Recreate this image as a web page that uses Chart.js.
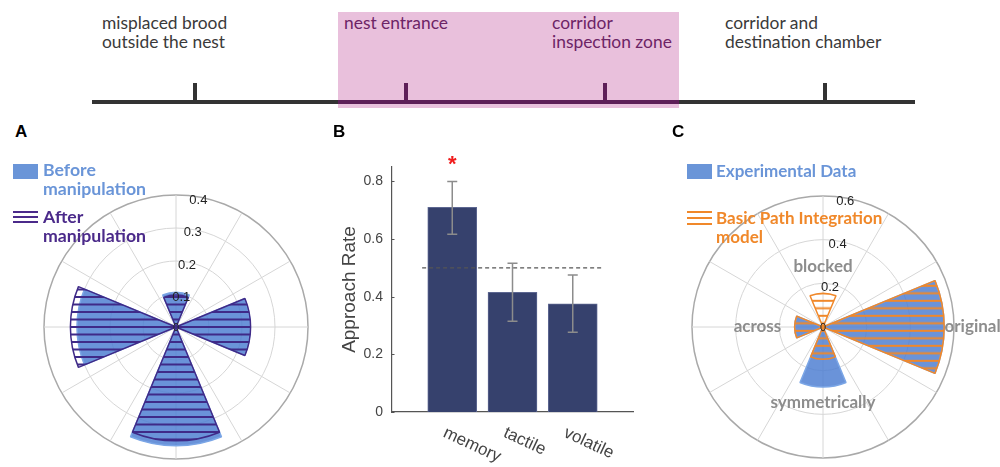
<!DOCTYPE html>
<html>
<head>
<meta charset="utf-8">
<script src="https://cdn.jsdelivr.net/npm/chart.js@4.4.0/dist/chart.umd.min.js"></script>
<style>
  body { margin: 0; background: #fff; }
  #fig { position: relative; width: 1000px; height: 467px; overflow: hidden; font-family: Lato, "Open Sans", sans-serif; }
  .abs { position: absolute; }
  .zone { position: absolute; font-size: 17.4px; line-height: 18.5px; color: #3a3a3a; white-space: nowrap; }
  .inside { color: #6d2466; }
  .letter { position: absolute; font: bold 17px "Liberation Sans", Arial, sans-serif; line-height: 17px; color: #000; }
  .leg { position: absolute; font-weight: bold; font-size: 17.7px; line-height: 18.5px; white-space: nowrap; }
  .legc { font-size: 17px; }
  canvas { position: absolute; }
</style>
</head>
<body>
<div id="fig">
  <!-- schematic of the route -->
  <div class="abs" style="left:338px;top:12px;width:341px;height:96px;background:#e9c0dc"></div>
  <div class="abs" style="left:92px;top:99.5px;width:823px;height:4px;background:#333"></div>
  <div class="abs" style="left:338px;top:99.5px;width:341px;height:4px;background:#5e1f58"></div>
  <div class="abs" style="left:193px;top:83px;width:4px;height:18px;background:#333"></div>
  <div class="abs" style="left:404px;top:83px;width:4px;height:18px;background:#5e1f58"></div>
  <div class="abs" style="left:603px;top:83px;width:4px;height:18px;background:#5e1f58"></div>
  <div class="abs" style="left:823px;top:83px;width:4px;height:18px;background:#333"></div>
  <div class="zone" style="left:102px;top:14px">misplaced brood<br>outside the nest</div>
  <div class="zone inside" style="left:344px;top:14px">nest entrance</div>
  <div class="zone inside" style="left:552px;top:14px">corridor<br>inspection zone</div>
  <div class="zone" style="left:725px;top:14px">corridor and<br>destination chamber</div>

  <canvas id="chartA" width="320" height="317" style="left:0;top:150px"></canvas>
  <canvas id="chartB" width="340" height="327" style="left:320px;top:140px"></canvas>
  <canvas id="chartC" width="340" height="317" style="left:660px;top:150px"></canvas>

  <div class="letter" style="left:15px;top:123px">A</div>
  <div class="letter" style="left:333px;top:123px">B</div>
  <div class="letter" style="left:672px;top:123px">C</div>

  <div class="abs" style="left:13px;top:164px;width:25px;height:15px;background:#6a95d8"></div>
  <div class="leg" style="left:43px;top:161px;color:#6a95d8">Before<br>manipulation</div>
  <div class="abs" style="left:13px;top:211px;width:25px;height:12px;background:repeating-linear-gradient(#4b2a8a 0 2px, transparent 2px 5px)"></div>
  <div class="leg" style="left:43px;top:208px;color:#4b2a8a">After<br>manipulation</div>

  <div class="abs" style="left:687px;top:164px;width:25px;height:15px;background:#6a95d8"></div>
  <div class="leg legc" style="left:716px;top:162px;color:#6a95d8">Experimental Data</div>
  <div class="abs" style="left:687px;top:211px;width:25px;height:14px;background:repeating-linear-gradient(#f0882a 0 2px, transparent 2px 6px)"></div>
  <div class="leg legc" style="left:716px;top:209px;color:#f0882a">Basic Path Integration<br>model</div>
</div>

<script>
// A: rose histogram, 8 bins of 45 deg, clockwise from "up"
const aBins = ["up", "up-right", "right", "down-right", "down", "down-left", "left", "up-left"];
const aBefore = [0.105, 0, 0.225, 0, 0.36, 0, 0.30, 0];
const aAfter = [0.097, 0, 0.226, 0, 0.345, 0, 0.32, 0];
const aTicks = [0.1, 0.2, 0.3, 0.4];

// B: approach rate per cue
const bCategories = ["memory", "tactile", "volatile"];
const bRate = [0.71, 0.415, 0.375];
const bErrLow = [0.617, 0.315, 0.277];
const bErrHigh = [0.80, 0.516, 0.475];
const bSig = ["*", "", ""];
const bChance = 0.5;

// C: direction choice, same bins as A
const cBins = ["blocked", "", "original", "", "symmetrically", "", "across", ""];
const cExperimental = [0, 0, 0.555, 0, 0.275, 0, 0.13, 0];
const cModel = [0.155, 0, 0.555, 0, 0.148, 0, 0.13, 0];
const cTicks = [0.2, 0.4, 0.6];

const blue = "rgba(80,128,210,0.85)";

const hatch = (color, gap, lw) => {
  const c = document.createElement("canvas");
  c.width = 4;
  c.height = gap * 2;
  const g = c.getContext("2d");
  g.fillStyle = color;
  g.fillRect(0, 0, 4, lw);
  g.fillRect(0, gap, 4, lw);
  return g.createPattern(c, "repeat");
};

const binAngle = (s, i) => s.getIndexAngle(i) + Math.PI / 8 - Math.PI / 2;

const roseDecor = {
  id: "roseDecor",
  beforeDatasetsDraw(chart, args, opts) {
    const s = chart.scales.r;
    const ctx = chart.ctx;
    opts.pattern.setTransform(new DOMMatrix([1, 0, 0, 1, 0, s.yCenter - 1 + opts.phase]));
    ctx.save();
    ctx.strokeStyle = "#d6d6d6";
    ctx.lineWidth = 1;
    for (let k = 0; k < 12; k++) {
      const a = (k * Math.PI) / 6;
      ctx.beginPath();
      ctx.moveTo(s.xCenter, s.yCenter);
      ctx.lineTo(s.xCenter + Math.cos(a) * s.drawingArea, s.yCenter + Math.sin(a) * s.drawingArea);
      ctx.stroke();
    }
    ctx.restore();
  },
  afterDatasetsDraw(chart, args, opts) {
    const s = chart.scales.r;
    const ctx = chart.ctx;
    ctx.save();
    ctx.fillStyle = "#222";
    ctx.font = '13px "Liberation Sans", Arial, sans-serif';
    ctx.textAlign = "center";
    ctx.textBaseline = "middle";
    const a = -Math.PI / 2 + (10 * Math.PI) / 180;
    opts.ticks.forEach((v) => {
      const d = s.getDistanceFromCenterForValue(v) - 3;
      ctx.fillText(v.toFixed(1), s.xCenter + Math.cos(a) * d, s.yCenter + Math.sin(a) * d);
    });
    ctx.font = '11px "Liberation Sans", Arial, sans-serif';
    ctx.fillText("0", s.xCenter, s.yCenter + 1);
    if (opts.names) {
      ctx.fillStyle = "#8d8d8d";
      ctx.font = 'bold 17px Lato, sans-serif';
      opts.names.forEach((n, i) => {
        if (!n) return;
        const d = s.getDistanceFromCenterForValue(opts.namesAt[i]);
        const ang = binAngle(s, i);
        ctx.fillText(n, s.xCenter + Math.cos(ang) * d, s.yCenter + Math.sin(ang) * d);
      });
    }
    ctx.restore();
  },
};

const rose = (id, labels, hatched, filled, max, step, lineColor, pad, decor) => {
  const pattern = hatch(lineColor, 7.5, 2);
  const bw = (c) => (c.raw > 0 ? 1.5 : 0);
  new Chart(document.getElementById(id), {
    type: "polarArea",
    data: {
      labels: labels,
      datasets: [
        { data: hatched, backgroundColor: pattern, borderColor: lineColor, borderWidth: bw },
        { data: filled, backgroundColor: blue, borderColor: "#7ba6e6", borderWidth: bw },
      ],
    },
    options: {
      responsive: false,
      animation: false,
      layout: { padding: pad },
      plugins: {
        legend: { display: false },
        tooltip: { enabled: false },
        roseDecor: Object.assign({ pattern: pattern }, decor),
      },
      scales: {
        r: {
          min: 0,
          max: max,
          startAngle: -22.5,
          ticks: { display: false, stepSize: step },
          angleLines: { display: false },
          pointLabels: { display: false },
          grid: {
            circular: true,
            color: (c) => (c.tick && c.tick.value > max - 1e-6 ? "#a9a9a9" : "#d6d6d6"),
            lineWidth: (c) => (c.tick && c.tick.value > max - 1e-6 ? 1.5 : 1),
          },
        },
      },
    },
    plugins: [roseDecor],
  });
};

rose("chartA", aBins, aAfter, aBefore, 0.4, 0.1, "#3f2a88",
  { left: 44, right: 12, top: 45, bottom: 8 },
  { ticks: aTicks, phase: 0 });

rose("chartC", cBins, cModel, cExperimental, 0.6, 0.2, "#f0882a",
  { left: 32, right: 46, top: 46, bottom: 9 },
  { ticks: cTicks, phase: 3.75, names: cBins, namesAt: [0.275, 0, 0.685, 0, 0.345, 0, 0.30, 0] });

const barDecor = {
  id: "barDecor",
  afterDatasetsDraw(chart) {
    const { ctx, scales: { x, y } } = chart;
    ctx.save();
    ctx.strokeStyle = "#555";
    ctx.lineWidth = 1.2;
    ctx.setLineDash([4, 3]);
    ctx.beginPath();
    ctx.moveTo(x.getPixelForValue(0.5), y.getPixelForValue(bChance));
    ctx.lineTo(x.getPixelForValue(bCategories.length + 0.5), y.getPixelForValue(bChance));
    ctx.stroke();
    ctx.setLineDash([]);

    // small inward ticks on the y axis
    ctx.strokeStyle = "#555";
    ctx.lineWidth = 1;
    y.ticks.forEach((t) => {
      const py = Math.round(y.getPixelForValue(t.value)) + 0.5;
      ctx.beginPath();
      ctx.moveTo(x.left, py);
      ctx.lineTo(x.left + 2.5, py);
      ctx.stroke();
    });

    ctx.strokeStyle = "#8c8c8c";
    ctx.lineWidth = 1.5;
    bCategories.forEach((c, i) => {
      const px = x.getPixelForValue(i + 1);
      const top = y.getPixelForValue(bErrHigh[i]);
      const bot = y.getPixelForValue(bErrLow[i]);
      ctx.beginPath();
      ctx.moveTo(px, top);
      ctx.lineTo(px, bot);
      ctx.moveTo(px - 5, top);
      ctx.lineTo(px + 5, top);
      ctx.moveTo(px - 5, bot);
      ctx.lineTo(px + 5, bot);
      ctx.stroke();
      if (bSig[i]) {
        ctx.fillStyle = "#f01c1c";
        ctx.font = 'bold 22px "Liberation Sans", Arial, sans-serif';
        ctx.textAlign = "center";
        ctx.textBaseline = "alphabetic";
        ctx.fillText(bSig[i], px, top - 10);
      }
    });

    ctx.fillStyle = "#444";
    ctx.font = '17px "Liberation Sans", Arial, sans-serif';
    ctx.textAlign = "left";
    ctx.textBaseline = "middle";
    bCategories.forEach((c, i) => {
      ctx.save();
      ctx.translate(x.getPixelForValue(i + 1) - 8, y.bottom + 20);
      ctx.rotate((25 * Math.PI) / 180);
      ctx.fillText(c, 0, 0);
      ctx.restore();
    });
    ctx.restore();
  },
};

new Chart(document.getElementById("chartB"), {
  type: "bar",
  data: {
    labels: ["", ...bCategories, ""],
    datasets: [
      {
        data: [null, ...bRate, null],
        backgroundColor: "#36416d",
        borderColor: "#5d6791",
        borderWidth: 1,
        barThickness: 49,
      },
    ],
  },
  options: {
    responsive: false,
    animation: false,
    layout: { padding: { left: 0, right: 27, top: 27, bottom: 0 } },
    plugins: { legend: { display: false }, tooltip: { enabled: false } },
    scales: {
      x: {
        offset: false,
        grid: { display: false, drawTicks: false },
        border: { color: "#555", width: 1.2 },
        ticks: { display: false },
        afterFit: (s) => { s.height = 55; },
      },
      y: {
        min: 0,
        max: 0.85,
        grid: { display: false, drawTicks: false },
        border: { color: "#555", width: 1.2 },
        ticks: {
          stepSize: 0.2,
          includeBounds: false,
          padding: 9,
          color: "#444",
          font: { family: '"Liberation Sans", Arial, sans-serif', size: 14 },
        },
        title: {
          display: true,
          text: "Approach Rate",
          color: "#444",
          padding: { top: 18, bottom: 0 },
          font: { family: '"Liberation Sans", Arial, sans-serif', size: 19 },
        },
        afterFit: (s) => { s.width = 72; },
      },
    },
  },
  plugins: [barDecor],
});
</script>
</body>
</html>
